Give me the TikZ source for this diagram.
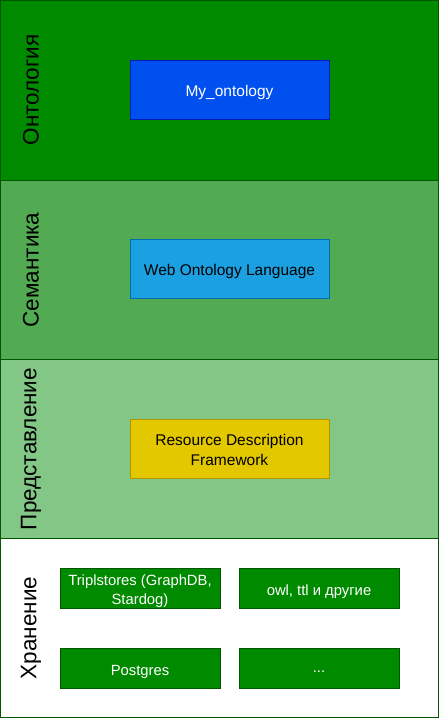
\documentclass[tikz,border=0pt]{standalone}
\usepackage{fontspec}
\setmainfont{Liberation Sans}
\definecolor{dg}{HTML}{008A00}
\definecolor{dgb}{HTML}{005700}
\definecolor{mg}{HTML}{52AA52}
\definecolor{lg}{HTML}{82C785}
\definecolor{bl}{HTML}{0050EF}
\definecolor{blb}{HTML}{001DBC}
\definecolor{lb}{HTML}{1BA1E2}
\definecolor{lbb}{HTML}{006EAF}
\definecolor{ye}{HTML}{E3C800}
\definecolor{yeb}{HTML}{B09500}
\begin{document}
\begin{tikzpicture}[x=1pt,y=-1pt,
  band/.style={draw=dgb,line width=0.8pt},
  lbl/.style={rotate=90,font=\fontsize{22.5}{26}\selectfont,text=black},
  box/.style={minimum width=199pt,minimum height=59pt,line width=0.8pt,inner sep=0pt},
  btxt/.style={font=\fontsize{15.5}{20}\selectfont,align=center,inner sep=0pt},
  sbox/.style={fill=dg,draw=dgb,minimum width=160pt,minimum height=40pt,line width=0.6pt,inner sep=0pt},
  stxt/.style={text=white,font=\fontsize{14.8}{19}\selectfont,align=center,inner sep=0pt}]
\useasboundingbox (0,0) rectangle (439,718);
\path[band,fill=dg] (0.5,0.5) rectangle (438.5,180);
\path[band,fill=mg] (0.5,180) rectangle (438.5,359);
\path[band,fill=lg] (0.5,359) rectangle (438.5,538);
\path[band,fill=white] (0.5,538) rectangle (438.5,717.5);
\node[lbl] (l1) at (31,90) {Онтология};
\node[lbl] (l2) at (31,270) {Семантика};
\node[lbl] (l3) at (31,449) {Представление};
\node[lbl] (l4) at (31,628) {Хранение};
\node[box,fill=bl,draw=blb] (onto) at (229.5,90) {};
\node[btxt,text=white] (ontot) at ([yshift=-2.5pt]onto.center) {My\_ontology};
\node[box,fill=lb,draw=lbb] (owl) at (229.5,268.5) {};
\node[btxt,text=black] (owlt) at ([yshift=-3pt]owl.center) {Web Ontology Language};
\node[box,fill=ye,draw=yeb] (rdf) at (229.5,448.5) {};
\node[btxt,text=black] (rdft) at ([yshift=-1.5pt]rdf.center) {Resource Description\\Framework};
\node[sbox] (ts) at (140,588) {};
\node[stxt] (tst) at ([yshift=-3pt]ts.center) {Triplstores (GraphDB,\\Stardog)};
\node[sbox] (ot) at (319,588) {};
\node[stxt] (ott) at ([yshift=-3.5pt]ot.center) {owl, ttl и другие};
\node[sbox] (pg) at (140,668) {};
\node[stxt] (pgt) at ([yshift=-4pt]pg.center) {Postgres};
\node[sbox] (dots) at (319,668) {};
\node[stxt] (dotst) at ([yshift=-4pt]dots.center) {...};
\end{tikzpicture}
\end{document}
